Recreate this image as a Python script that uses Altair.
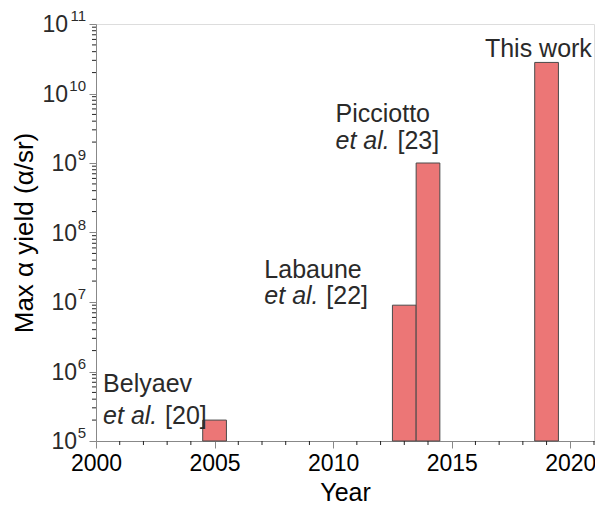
import altair as alt
import pandas as pd

# ---- data ----
years = [2005, 2013, 2014, 2019]
yields = [2.0e5, 9.0e6, 1.0e9, 2.8e10]

x_tick_values = [2000, 2005, 2010, 2015, 2020]
x_minor_values = [2001, 2002, 2003, 2004, 2006, 2007, 2008, 2009, 2011, 2012,
                  2013, 2014, 2016, 2017, 2018, 2019, 2021]
y_exponents = [5, 6, 7, 8, 9, 10, 11]
y_minor_values = [m * 10 ** k for k in range(5, 11) for m in range(2, 10)]

note_names = ["This work", "Picciotto", "Labaune", "Belyaev"]
note_years = [2016.4, 2010.1, 2007.1, 2000.3]
note_values = [3.35e10, 3.9e9, 2.2e7, 5.0e5]

etal_refs = ["[23]", "[22]", "[20]"]
etal_years = [2010.1, 2007.1, 2000.3]
etal_values = [1.6e9, 9.5e6, 1.75e5]

# ---- layout / style ----
W, H = 498, 417
FONT = "Liberation Sans"
TXT = "#2a2a2a"
Y_MIN, Y_MAX = 1e5, 1e11

df_bars = pd.DataFrame({"year": years, "yield": yields})
df_ymaj = pd.DataFrame({"value": [10.0 ** e for e in y_exponents],
                        "exp": [str(e) for e in y_exponents]})
df_ymin = pd.DataFrame({"value": y_minor_values})
df_xmin = pd.DataFrame({"year": x_minor_values})
df_notes = pd.DataFrame({"label": note_names, "year": note_years, "value": note_values})
df_etal = pd.DataFrame({"ref": etal_refs, "year": etal_years, "value": etal_values})

x_scale = alt.Scale(domain=[2000, 2021], nice=False, zero=False)
y_scale = alt.Scale(type="log", domain=[Y_MIN, Y_MAX], nice=False)

bars = alt.Chart(df_bars).transform_calculate(
    x0="datum.year - 0.5", x1="datum.year + 0.5"
).mark_rect(fill="#EC7676", stroke="#4a4a4a", strokeWidth=1).encode(
    x=alt.X("x0:Q", scale=x_scale,
            axis=alt.Axis(values=x_tick_values, format="d", title="Year",
                          tickSize=7, labelPadding=4, labelFontSize=23,
                          labelFlush=False, labelOverlap=False,
                          titleFontSize=25, titleFontWeight="normal",
                          titleY=59, titleBaseline="alphabetic", grid=False)),
    x2="x1:Q",
    y=alt.Y("yield:Q", scale=y_scale,
            axis=alt.Axis(values=[10.0 ** e for e in y_exponents], labels=False,
                          title="Max α yield (α/sr)", tickSize=7,
                          titleFontSize=26, titleFontWeight="normal",
                          titleX=-72, titleY=H / 2, titleAngle=-90,
                          titleAlign="center", titleBaseline="middle", grid=False)),
    y2=alt.datum(Y_MIN),
)

y_minor = alt.Chart(df_ymin).mark_rule(color="#222", strokeWidth=1).encode(
    y=alt.Y("value:Q", scale=y_scale), x=alt.value(0), x2=alt.value(-4))

x_minor = alt.Chart(df_xmin).mark_rule(color="#222", strokeWidth=1).encode(
    x=alt.X("year:Q", scale=x_scale), y=alt.value(H), y2=alt.value(H + 4))

# y tick labels as 10 + superscript exponent
one = alt.Chart(df_ymaj).transform_filter("length(datum.exp) == 1")
two = alt.Chart(df_ymaj).transform_filter("length(datum.exp) == 2")
ten1 = one.mark_text(align="right", baseline="middle", fontSize=23, font=FONT,
                     color=TXT, dx=-19, dy=1).encode(
    y=alt.Y("value:Q", scale=y_scale), x=alt.value(0), text=alt.value("10"))
ten2 = two.mark_text(align="right", baseline="middle", fontSize=23, font=FONT,
                     color=TXT, dx=-28, dy=1).encode(
    y=alt.Y("value:Q", scale=y_scale), x=alt.value(0), text=alt.value("10"))
exps = alt.Chart(df_ymaj).mark_text(align="right", baseline="middle", fontSize=15,
                                     font=FONT, color=TXT, dx=-10, dy=-8).encode(
    y=alt.Y("value:Q", scale=y_scale), x=alt.value(0), text="exp:N")

notes = alt.Chart(df_notes).mark_text(align="left", baseline="alphabetic",
                                      fontSize=25, font=FONT, color=TXT).encode(
    x=alt.X("year:Q", scale=x_scale), y=alt.Y("value:Q", scale=y_scale), text="label:N")
etal = alt.Chart(df_etal).mark_text(align="left", baseline="alphabetic", fontSize=25,
                                    font=FONT, color=TXT, fontStyle="italic").encode(
    x=alt.X("year:Q", scale=x_scale), y=alt.Y("value:Q", scale=y_scale),
    text=alt.value("et al."))
refs = alt.Chart(df_etal).mark_text(align="left", baseline="alphabetic", fontSize=25,
                                    font=FONT, color=TXT, dx=62).encode(
    x=alt.X("year:Q", scale=x_scale), y=alt.Y("value:Q", scale=y_scale), text="ref:N")

chart = alt.layer(bars, y_minor, x_minor, ten1, ten2, exps, notes, etal, refs).properties(
    width=W, height=H,
    autosize=alt.AutoSizeParams(type="none"),
    padding={"left": 88, "top": 16, "right": 1, "bottom": 66},
).configure_view(stroke="#222", strokeWidth=1.2).configure_axis(
    domainColor="#222", tickColor="#222", labelColor=TXT, titleColor=TXT,
    labelFont=FONT, titleFont=FONT, domainWidth=1.2,
).configure(background="white")

chart.save("out.html", embed_options={"renderer": "svg", "actions": False})
